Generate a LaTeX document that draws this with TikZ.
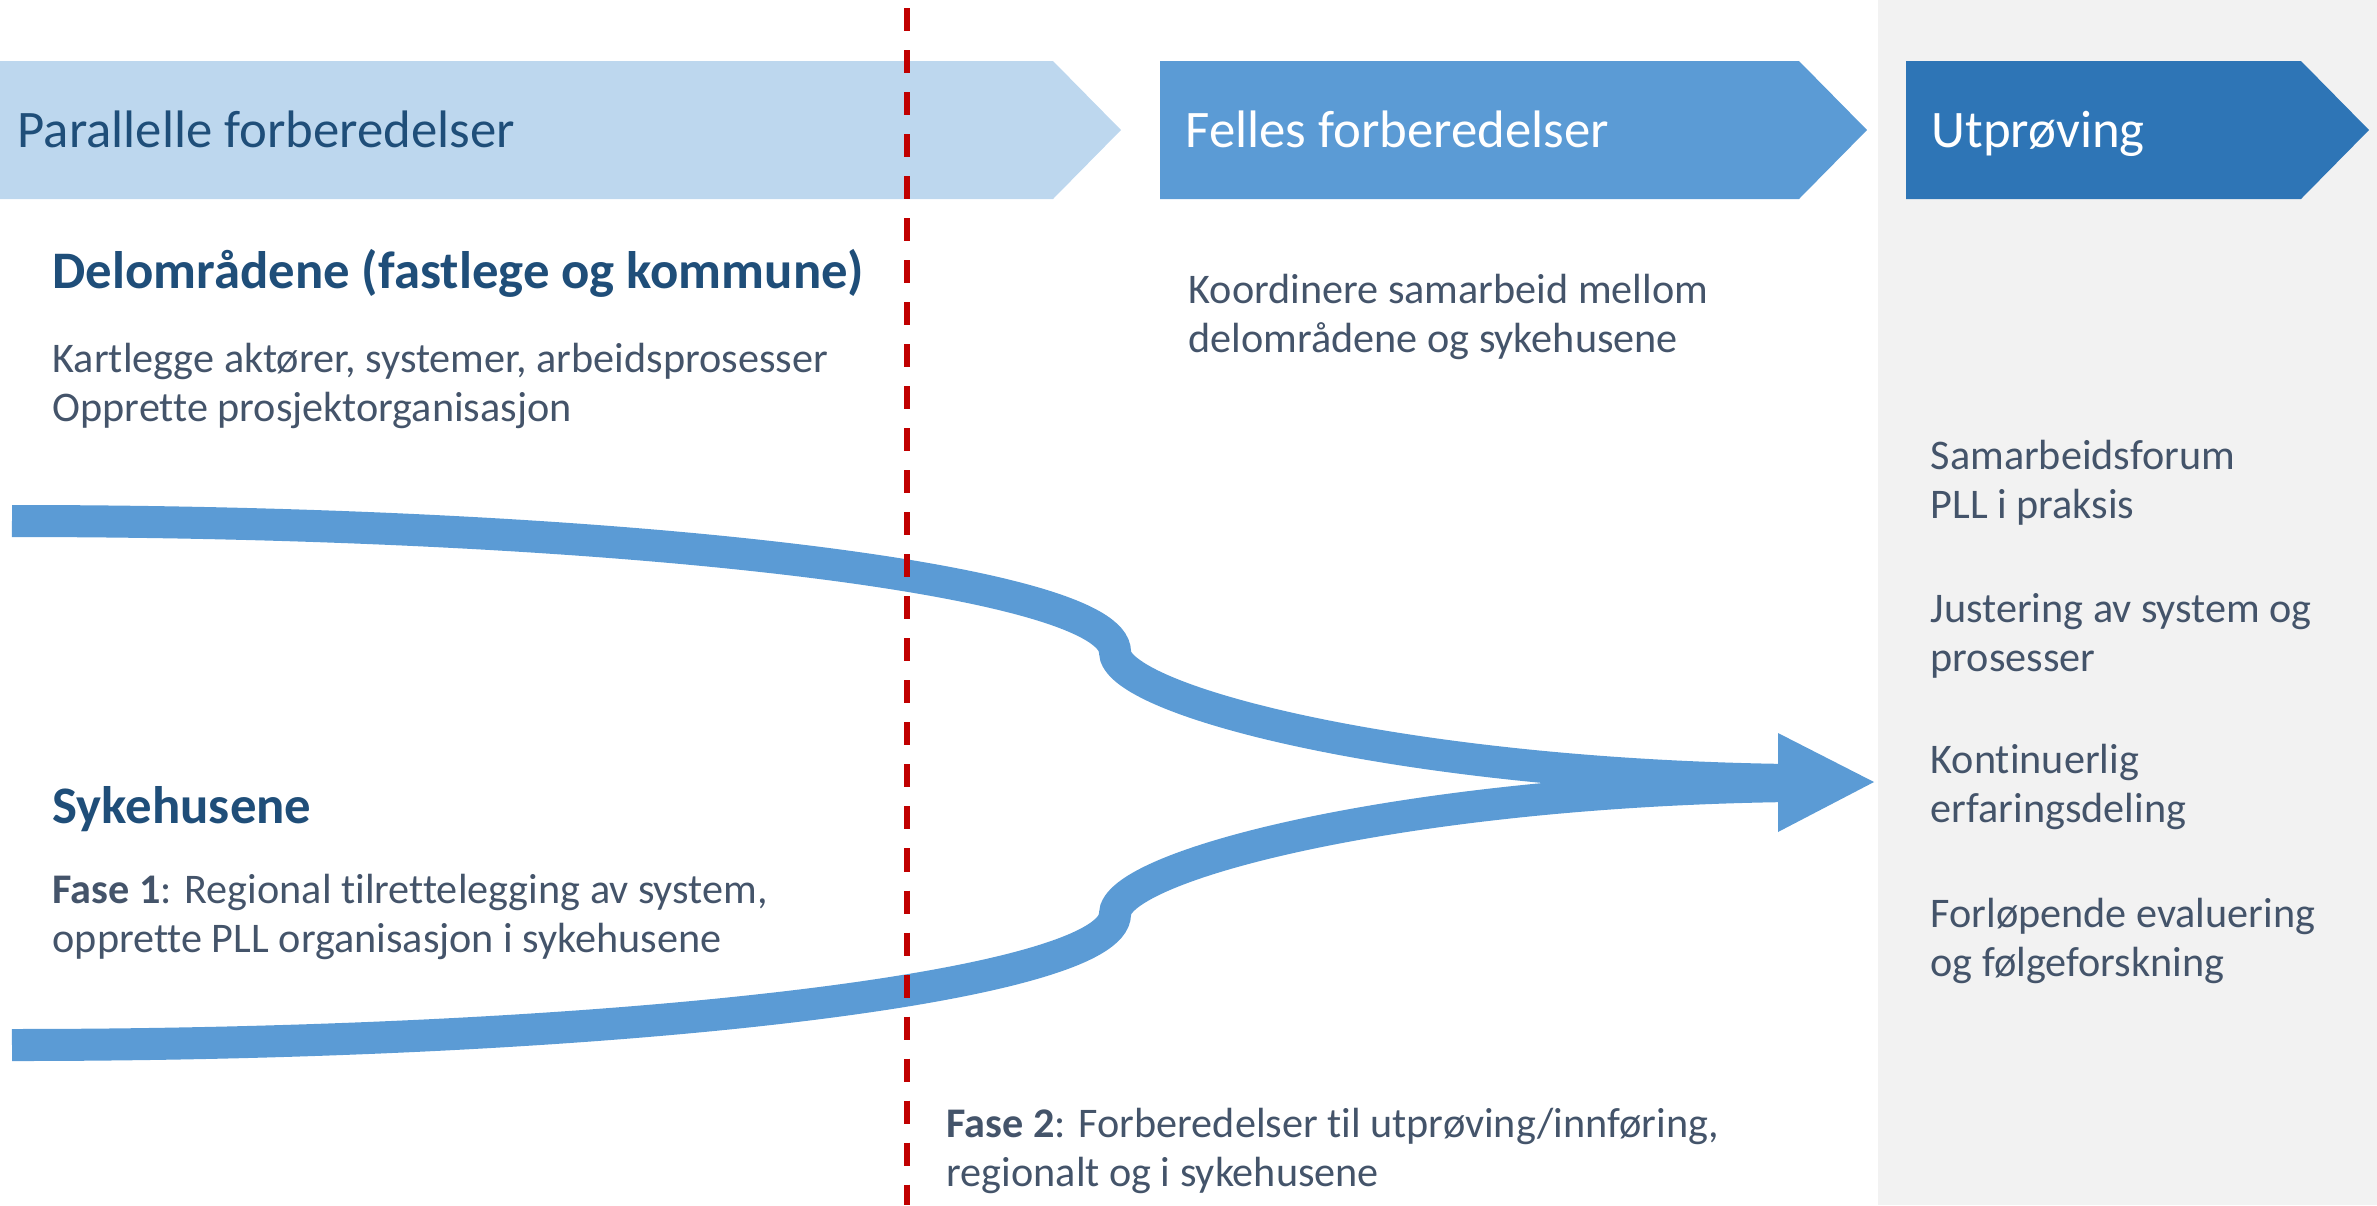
\documentclass[tikz,border=0pt]{standalone}
\usepackage{fontspec}
\setmainfont{Carlito}[Ligatures=NoCommon]
\usepackage{xcolor}
\definecolor{lysblaa}{HTML}{BDD7EE}
\definecolor{midblaa}{HTML}{5B9BD5}
\definecolor{morkblaa}{HTML}{2E75B6}
\definecolor{overskrift}{HTML}{1F4E79}
\definecolor{brodtekst}{HTML}{44546A}
\definecolor{graabak}{HTML}{F2F2F2}
\definecolor{fasestrek}{HTML}{C00000}
\newcommand{\tolinjer}[2]{\vtop{\hbox{#1}\hbox{#2}}}
\tikzset{
  heading/.style={anchor=base west, inner sep=0pt, text=overskrift, font=\fontsize{15}{18}\selectfont\bfseries},
  bodytext/.style={anchor=base west, inner sep=0pt, text=brodtekst, font=\fontsize{12}{14}\selectfont},
  bannertext/.style={anchor=base west, inner sep=0pt, font=\fontsize{15}{18}\selectfont},
  flow/.style={draw=midblaa, line width=0.32cm},
}

\begin{document}
\begin{tikzpicture}[x=0.01cm, y=-0.01cm]
\useasboundingbox (0,0) rectangle (2377,1205);
\fill[graabak] (1878,0) rectangle (2377,1205);
\fill[lysblaa] (0,61) -- (1053,61) -- (1121,130) -- (1053,199) -- (0,199) -- cycle;
\fill[midblaa] (1160,61) -- (1799,61) -- (1867,130) -- (1799,199) -- (1160,199) -- cycle;
\fill[morkblaa] (1906,61) -- (2301,61) -- (2369,130) -- (2301,199) -- (1906,199) -- cycle;
\node (parallell) at (17,147) [bannertext, text=overskrift] {Parallelle forberedelser};
\node (felles) at (1185,147) [bannertext, text=white] {Felles forberedelser};
\node (utproving) at (1931,147) [bannertext, text=white] {Utprøving};

\coordinate (delstart) at (12,521);
\coordinate (delknekk) at (1115,652);
\coordinate (sykstart) at (12,1045);
\coordinate (sykknekk) at (1115,914);
\coordinate (pilrot) at (1790,783);
\coordinate (pilspiss) at (1874,782);
\draw[flow] (delstart) .. controls (621,521) and (1115,580) .. (delknekk)
  .. controls (1115,700) and (1400,775) .. ([yshift=0.03cm]pilrot);
\draw[flow] (sykstart) .. controls (621,1045) and (1115,986) .. (sykknekk)
  .. controls (1115,866) and (1400,791) .. ([yshift=-0.03cm]pilrot);
\fill[midblaa] (1778,733) -- (pilspiss) -- (1778,832) -- cycle;

\coordinate (fasetopp) at (907,8);
\coordinate (fasebunn) at (907,1205);
\draw[fasestrek, line width=1.7pt, dash pattern=on 0.23cm off 0.19cm] (fasetopp) -- (fasebunn);

\node (delomr) at (52,288) [heading] {Delområdene (fastlege og kommune)};
\node (kartlegge) at (52,372) [bodytext] {\tolinjer{Kartlegge aktører, systemer, arbeidsprosesser}{Opprette prosjektorganisasjon}};
\node (koordinere) at (1188,303) [bodytext] {\tolinjer{Koordinere samarbeid mellom}{delområdene og sykehusene}};
\node (sykehus) at (52,823) [heading] {Sykehusene};
\node (fase1) at (52,903) [bodytext] {\tolinjer{\textbf{Fase 1}: Regional tilrettelegging av system,}{opprette PLL organisasjon i sykehusene}};
\node (fase2) at (946,1137) [bodytext] {\tolinjer{\textbf{Fase 2}: Forberedelser til utprøving/innføring,}{regionalt og i sykehusene}};

\node (forum) at (1930,469) [bodytext] {\tolinjer{Samarbeidsforum}{PLL i praksis}};
\node (justering) at (1930,622) [bodytext] {\tolinjer{Justering av system og}{prosesser}};
\node (erfaring) at (1930,773) [bodytext] {\tolinjer{Kontinuerlig}{erfaringsdeling}};
\node (evaluering) at (1930,927) [bodytext] {\tolinjer{Forløpende evaluering}{og følgeforskning}};
\end{tikzpicture}
\end{document}
